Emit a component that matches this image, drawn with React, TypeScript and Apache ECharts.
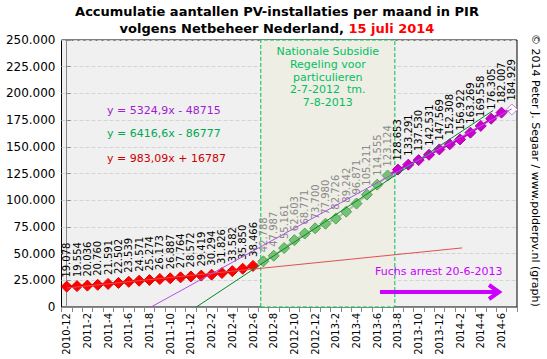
import React, { useEffect, useRef } from "react";
import * as echarts from "echarts";

const categories = [
  "2010-12","2011-1","2011-2","2011-3","2011-4","2011-5","2011-6","2011-7","2011-8","2011-9","2011-10","2011-11",
  "2011-12","2012-1","2012-2","2012-3","2012-4","2012-5","2012-6","2012-7","2012-8","2012-9","2012-10","2012-11",
  "2012-12","2013-1","2013-2","2013-3","2013-4","2013-5","2013-6","2013-7","2013-8","2013-9","2013-10","2013-11",
  "2013-12","2014-1","2014-2","2014-3","2014-4","2014-5","2014-6","2014-7",
];

// before the subsidy scheme (2010-12 .. 2012-6)
const seriesBefore = [19078,19554,20036,20760,21591,22502,23539,24571,25274,26173,26887,27764,28572,29419,30294,31826,33582,35850,38466];
// during the subsidy scheme (2012-7 .. 2013-7)
const seriesDuring = [42788,47987,55161,62603,68771,73700,77980,82726,89242,96871,105211,114555,123124];
// after the subsidy scheme (2013-8 .. 2014-7)
const seriesAfter = [128653,133291,137530,142531,147569,152308,156922,163269,169558,176305,182007,184929];

const yTicks = { min: 0, max: 250000, interval: 25000 };

// trendlines (Excel x = month index + 1), with their drawn x-range
const trendRed = { slope: 983.09, intercept: 16787, from: 1, to: 39.2, label: "y = 983,09x + 16787" };
const trendGreen = { slope: 6416.6, intercept: -86777, from: 13.52, to: 42.2, label: "y = 6416,6x - 86777" };
const trendPurple = { slope: 5324.9, intercept: -48715, from: 9.15, to: 44, label: "y = 5324,9x - 48715" };

// subsidy band (in month-index units)
const band = { from: 18.75, to: 31.7 };
const bandText = "Nationale Subsidie\nRegeling voor\nparticulieren\n2-7-2012  tm.\n7-8-2013";

const fmt = (v: number) => String(Math.round(v)).replace(/\B(?=(\d{3})+(?!\d))/g, ".");

const FONT = "'DejaVu Sans', Verdana, sans-serif";

export default function App() {
  const ref = useRef<HTMLDivElement>(null);
  useEffect(() => {
    document.body.style.margin = "0";
    const chart = echarts.init(ref.current!, null, { renderer: "svg" });
    const n = categories.length;

    const labelCfg = (color: string) => ({
      show: true,
      position: "top",
      rotate: 90,
      align: "left",
      verticalAlign: "middle",
      distance: 3,
      fontSize: 10,
      fontFamily: FONT,
      color,
      formatter: (p: any) => fmt(p.value),
    });

    const before: any[] = new Array(n).fill(null);
    seriesBefore.forEach((v, i) => (before[i] = v));
    const startDuring = seriesBefore.length;
    const during: any[] = new Array(n).fill(null);
    during[startDuring - 1] = { value: seriesBefore[startDuring - 1], symbol: "none", label: { show: false } };
    seriesDuring.forEach((v, i) => (during[startDuring + i] = v));
    const startAfter = startDuring + seriesDuring.length;
    const after: any[] = new Array(n).fill(null);
    after[startAfter - 1] = { value: seriesDuring[seriesDuring.length - 1], symbol: "none", label: { show: false } };
    seriesAfter.forEach((v, i) => {
      const isLast = i === seriesAfter.length - 1;
      after[startAfter + i] = isLast
        ? { value: v, itemStyle: { color: "#ffffff", borderColor: "#c080e0", borderWidth: 1 } }
        : v;
    });

    const trend = (t: any, color: string, width: number) => ({
      type: "line",
      xAxisIndex: 1,
      yAxisIndex: 0,
      symbol: "none",
      silent: true,
      clip: true,
      z: 4,
      lineStyle: { color, width },
      data: [
        [t.from - 1, t.slope * t.from + t.intercept],
        [t.to - 1, t.slope * t.to + t.intercept],
      ],
    });

    const dataSeries = (data: any[], sym: any, line: any, labelColor: string) => ({
      type: "line",
      data,
      z: 3,
      symbol: "diamond",
      symbolSize: 11,
      showAllSymbol: true,
      labelLayout: { hideOverlap: false },
      itemStyle: sym,
      lineStyle: line,
      label: labelCfg(labelColor),
    });

    chart.setOption({
      animation: false,
      grid: {
        left: 61.5,
        right: 30,
        top: 40,
        bottom: 52,
        show: true,
        backgroundColor: "#f0f0f0",
        borderColor: "#000",
        borderWidth: 1,
      },
      xAxis: [
        {
          type: "category",
          data: categories,
          boundaryGap: true,
          axisLine: { lineStyle: { color: "#888" } },
          axisTick: { show: true, interval: 0, length: 5, lineStyle: { color: "#888" } },
          axisLabel: { interval: 1, rotate: 90, fontSize: 10, fontFamily: FONT, color: "#000", margin: 6 },
          splitLine: { show: false },
        },
        { type: "value", min: -0.5, max: n - 0.5, show: false, gridIndex: 0 },
      ],
      yAxis: {
        type: "value",
        min: yTicks.min,
        max: yTicks.max,
        interval: yTicks.interval,
        axisLine: { show: true, lineStyle: { color: "#888" } },
        axisTick: { show: true, inside: true, length: 4, lineStyle: { color: "#888" } },
        axisLabel: { fontSize: 12, fontFamily: FONT, color: "#000", formatter: (v: number) => fmt(v), margin: 6 },
        splitLine: { show: true, lineStyle: { color: "#d4d4d4", type: "dashed" } },
      },
      series: [
        {
          type: "line",
          xAxisIndex: 1,
          data: [],
          z: 1,
          silent: true,
          markArea: {
            silent: true,
            itemStyle: { color: "#eeeee5", borderColor: "#00c050", borderWidth: 1, borderType: "dashed" },
            label: {
              show: true,
              position: "insideTop",
              distance: 6,
              fontSize: 11,
              lineHeight: 12.7,
              fontFamily: FONT,
              color: "#00c060",
              align: "center",
            },
            data: [[{ xAxis: band.from, yAxis: yTicks.min, name: bandText }, { xAxis: band.to, yAxis: yTicks.max }]],
          },
        },
        dataSeries(before, { color: "#ff0000", borderColor: "#dd0000", borderWidth: 1 }, { color: "#ff0000", width: 2 }, "#000"),
        dataSeries(during, { color: "#74c274", borderColor: "#5a9f5a", borderWidth: 1 }, { color: "#a6c2a6", width: 2 }, "#8a8a8a"),
        dataSeries(after, { color: "#cc00cc", borderColor: "#b000b0", borderWidth: 1 }, { color: "#cc00cc", width: 2 }, "#000"),
        trend(trendRed, "#e05050", 1),
        trend(trendGreen, "#008a20", 1),
        trend(trendPurple, "#b050e8", 1),
      ],
      graphic: [
        {
          type: "text",
          x: 277,
          y: 3,
          z: 100,
          style: {
            text: "{a|Accumulatie aantallen PV-installaties per maand in PIR}\n{a|volgens Netbeheer Nederland, }{r|15 juli 2014}",
            textAlign: "center",
            rich: {
              a: { fontSize: 13, fontWeight: "bold", fontFamily: FONT, fill: "#000", lineHeight: 17 },
              r: { fontSize: 13, fontWeight: "bold", fontFamily: FONT, fill: "#ff0000", lineHeight: 17 },
            },
          },
        },
        {
          type: "text",
          x: 107,
          y: 110,
          z: 100,
          style: { text: trendPurple.label, fontSize: 11, fontFamily: FONT, fill: "#a020d0", textVerticalAlign: "middle" },
        },
        {
          type: "text",
          x: 107,
          y: 133,
          z: 100,
          style: { text: trendGreen.label, fontSize: 11, fontFamily: FONT, fill: "#00a850", textVerticalAlign: "middle" },
        },
        {
          type: "text",
          x: 107,
          y: 158,
          z: 100,
          style: { text: trendRed.label, fontSize: 11, fontFamily: FONT, fill: "#cc0000", textVerticalAlign: "middle" },
        },
        {
          type: "text",
          x: 375,
          y: 271,
          z: 100,
          style: { text: "Fuchs arrest 20-6-2013", fontSize: 11, fontFamily: FONT, fill: "#cc00ff", textVerticalAlign: "middle" },
        },
        {
          type: "line",
          z: 100,
          shape: { x1: 380, y1: 292, x2: 498, y2: 292 },
          style: { stroke: "#cc00ff", lineWidth: 4 },
        },
        {
          type: "polyline",
          z: 100,
          shape: { points: [[489, 285], [499, 292], [489, 299]] },
          style: { stroke: "#cc00ff", lineWidth: 4, fill: "none" },
        },
        {
          type: "text",
          x: 535,
          y: 34,
          z: 100,
          rotation: -Math.PI / 2,
          style: {
            text: "© 2014 Peter J. Segaar / www.polderpv.nl (graph)",
            fontSize: 11,
            fontFamily: FONT,
            fill: "#000",
            textAlign: "left",
            textVerticalAlign: "middle",
          },
        },
      ],
    });
    return () => chart.dispose();
  }, []);
  return <div ref={ref} style={{ width: 547, height: 359 }} />;
}
